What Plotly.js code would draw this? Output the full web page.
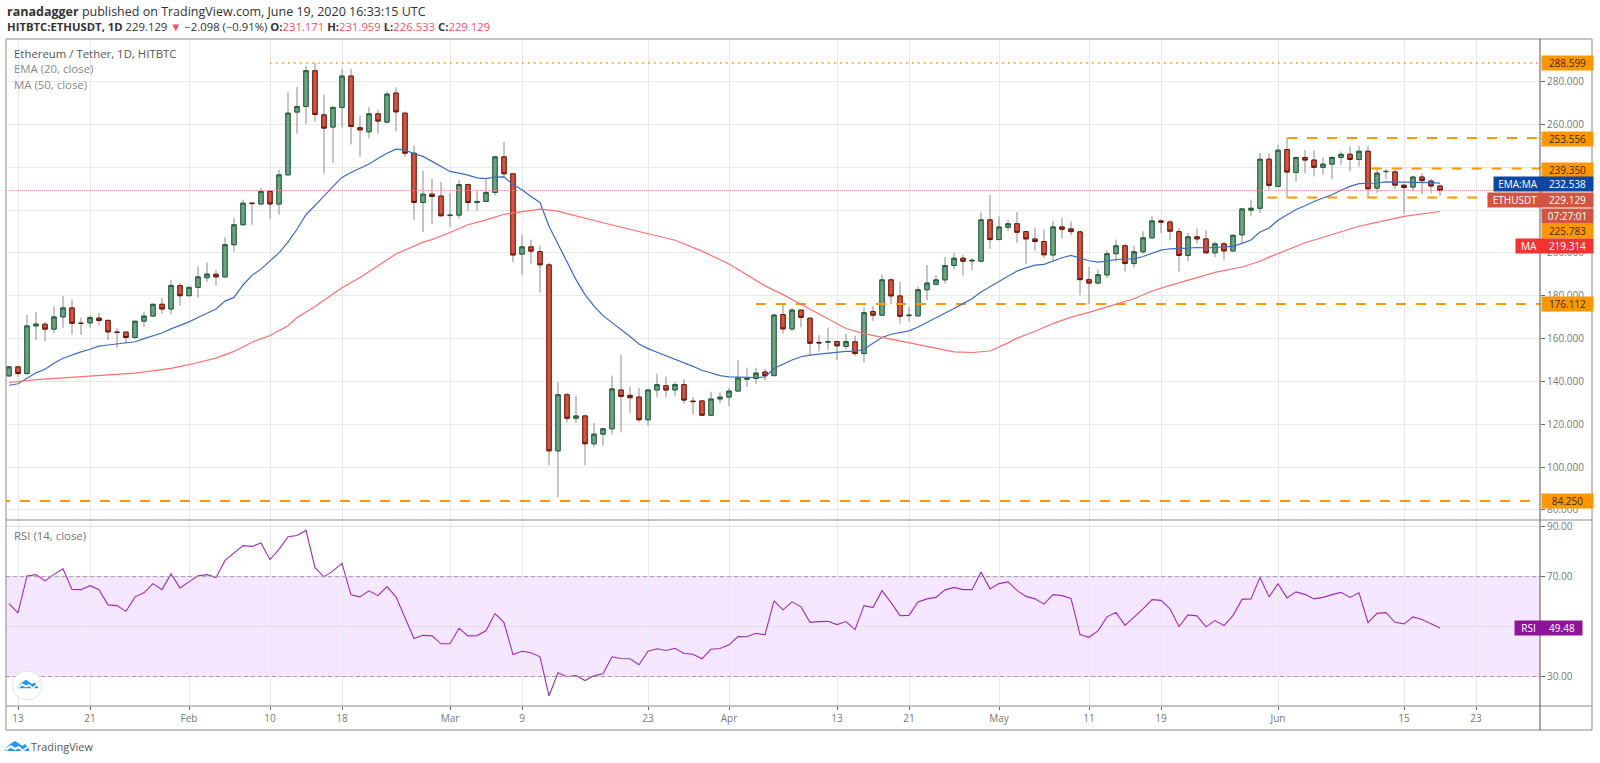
<!DOCTYPE html>
<html>
<head>
<meta charset="utf-8">
<script src="https://cdn.plot.ly/plotly-3.0.1.min.js"></script>
<style>
html, body { margin: 0; padding: 0; background: #fff; }
#graph { width: 1600px; height: 763px; }
</style>
</head>
<body>
<div id="graph"></div>
<script>
// daily candles start on 12 Jan 2020, one value per day
const firstDay = Date.UTC(2020, 0, 12);

const open = [142.6,146.8,143.7,165.9,166.7,164.4,170.1,174.3,167.1,167.3,169.6,168.5,163,163,160.5,168.1,170.5,176,173.8,184.7,180,183.9,188.4,190,188.8,203.8,213.1,223.2,222.8,228.7,222.8,236.4,265.7,268.3,285,264.4,258.7,267.9,282.5,258.4,256.5,264.9,261,274.6,265.2,246.5,223.5,227.4,226.5,217.4,217.6,231.9,223.5,224,228.2,244.8,236.9,199.4,202.8,200.6,194.4,107.6,133.8,122.8,123.9,110.9,115.4,117.9,136,133.5,132.7,122.1,136,138,136,138.5,130.8,130.9,124.2,131.8,132.7,135.5,141,141.4,144.4,142.7,171.2,164.5,173.3,169.5,158.2,158.3,158.6,156.3,158.5,153,172.6,170.9,187.4,179.9,170.7,170.6,182.8,185.3,187.4,194.1,197.5,196.2,196.1,215.4,206.2,211.9,213.6,209.9,206.5,205.3,199,212.1,211.2,209.8,187.5,185.9,189.7,199.6,203.3,195,200.5,207,214.9,214.4,209.9,198.8,207.5,206.5,200,204.2,200.9,208.4,219.9,220.8,243.7,231,248.2,237.5,244.5,243.3,239.9,241.4,244.5,246,243.6,247.4,230.2,237.9,237.8,231.6,230.7,235.4,233.5,231.171];
const high = [146.9,147,171,172.4,167.8,174.9,179.8,178.3,169.8,170.9,171.9,168.7,164.8,163.3,168.2,172.4,176.2,178.9,187.3,185.9,184.1,193.6,195.5,192,207.3,216.2,224.8,223.6,230.2,229,238.8,275,277.4,287.3,288.6,273.8,268.3,285.9,285.9,264.1,268,266.8,275.3,277.2,266,250,238.3,234.6,233,227.9,234,232.3,229.1,234.1,245,251.7,237.1,208.4,206.2,203.3,195.3,139.6,134.6,133.3,124.4,120.6,118.2,142.7,152.5,137.6,136.9,136.2,143.6,142.2,139.7,141.1,132.7,131.5,135.2,135,136.9,149.9,146.4,146.4,145.8,171.5,176.4,174.4,173.5,169.8,161.6,165.1,158.8,162.3,161.3,174.7,175.2,189.9,188.2,186.4,174.7,184.2,194.3,189.6,198.1,200,199.1,197.5,218.9,227.1,217.1,215.5,219.1,210.2,211.8,210.9,214.9,216.3,214.6,210,193.4,192.3,201.1,206.2,204.2,203.4,210.1,217,215.6,215.5,211.6,209.3,211.3,210.4,205.4,205.3,208.5,220.6,224.8,246.5,246.5,250.4,253.5,245,248,247.9,244.5,245,247.3,249.6,249.9,249.9,239.5,239.2,238.8,231.8,236,237.2,234.4,231.959];
const low = [142.1,142.1,143,159.2,158.8,162.5,165.1,161.9,161.7,165.1,166,159.2,155.8,157.8,159.9,165.4,170.4,171.5,171.3,175.4,179.8,179.1,186.5,184.7,188.5,200.6,213,213.1,222.7,215.9,217.8,236.3,255.6,260.2,261.3,236.9,241.9,258.5,250.6,244.8,253.5,255.6,260.6,256.7,244.7,215.4,209.7,213.4,217,212.3,216,219.6,219.6,223.9,226.8,234.9,195.6,189.9,195,181.5,100.8,86,120.9,120.6,100.8,109.2,110,115.4,116.2,125.2,120.9,119.3,132.6,132.6,133,129.8,124.6,124,124,129.9,128.4,135.4,137.4,138.8,140.5,142.3,162.3,163.6,165.3,152,154.1,154.7,150,155,152,148.7,168.2,170.6,176,167,168.1,170.2,178,184.8,185.6,192.3,189.5,192,195.9,201.9,205.9,210.1,204.7,194.7,201.1,197.7,196.1,206.8,208.2,180.3,176,185.3,188.2,195.7,191.3,193.2,199.6,206.8,209.3,205.9,191.3,196.1,204.4,199.7,198,196.9,200.6,204.7,217,218.6,229.5,230.8,225.6,233.2,237.2,235.7,236.4,234.4,241.1,238,240.3,226,228,234.4,229.8,218.3,228.7,227.3,227.9,226.533];
const close = [146.8,143.7,165.9,166.8,164.4,170.1,174.3,167.1,167.1,169.8,168.4,163.1,162.9,160.5,168.1,170.5,176,173.8,184.8,180,183.9,188.8,190.1,188.8,203.8,213.1,223.2,223,228.7,222.8,236.4,265.2,268.3,285,264.6,258.2,267.9,282.5,259,257.4,264.9,261.5,274.1,265.8,246.5,223.5,227.4,226.3,217.3,217.6,231.9,223.5,224,228.2,244.8,236.9,199,202.8,200.8,194.4,107.6,133.8,122.8,123.9,110.9,115.4,117.9,136.5,133,132.4,122.1,136,138.5,136,138.5,131.3,130.6,124.2,131.8,132.7,135.5,141.6,141.4,143.9,142.7,171,164.5,173.3,169.9,157.8,158,158.6,156.6,158.6,153,172.1,170.9,187.4,179.9,170.4,170.9,182.8,185.9,187.4,194.1,197.5,196.1,196.5,215.4,206.2,212.1,213.6,209.6,206.5,205.3,199.1,212.1,211,209.9,187.5,185.9,189.8,199.6,203.3,195,200.5,207,214.9,214.4,210.1,198.8,207.5,206.5,200,204.2,200.9,208.2,220.5,220.8,243.7,231.5,247.9,237.7,244.5,243.3,239.9,241.4,244.5,246,243.6,247.4,229.9,237.2,238,231.6,230.5,235.4,233.7,231.2,229.129];

const ema20 = [138.2,138.9,141.5,144,145.7,148.5,150.8,152.4,153.8,155,156.5,157,157.4,157.8,158.5,160,161.3,162.6,164.5,166,167.8,169.8,171.7,173.8,177.5,179.2,185,189.5,192.4,196,200,205,211,217.8,222,226.5,231,235.2,237.5,239.5,241.5,244,246.5,248.4,248.1,246.2,245,242.7,240.3,238,237.2,236.3,235,234.6,235.3,235.5,231.8,229.4,226.3,223.5,212.4,203.9,195.3,187.5,180.5,175.1,170.7,167.6,164.5,161,157.5,155.3,153.6,152,150.5,148.9,147,145.2,143.9,142.7,142.1,141.9,141.8,141.8,142.1,146,148,150,151.5,152.3,152.7,153.2,153.5,154,154,155,157.8,160.5,162,162.8,163.6,165.4,167.5,169.5,171.8,174,176.3,178.6,181.7,184.2,186.8,189.2,191.5,193,194.3,194.6,196.1,197.7,198.8,197.7,196.3,195.7,196.1,196.9,196.9,197.2,198.3,199.7,201.3,201.9,201.9,202.2,202.5,202.3,202.5,202.7,203,204.4,206,209.7,211.6,215.2,217.8,220.2,222,224,225.6,227.1,229.2,231,232.3,232.3,232.6,233.1,233.1,232.9,233.1,232.9,232.8,232.538];

// the 50 day average is smooth, read at these day numbers only
const maDays = [0,3,6,10,14,18,20,23,25,27,29,31,32,34,36,37,39,42,43,46,47,49,51,53,55,58,59,61,62,67,71,74,77,80,84,86,90,93,95,97,100,103,105,107,109,111,112,114,116,118,120,122,125,127,129,134,137,139,140,144,150,155,159];
const ma50 = [139.5,140.8,141.7,142.8,143.9,146.1,147.8,150.9,154,158.3,161.4,166,169.8,175,181,183.7,188.5,197,199.5,205,206.2,209.5,213.1,215.4,218,219.8,220.4,219.5,218.3,213,209,205.9,200.8,194.8,184.6,180.5,171.5,164.7,162.3,160.6,158,155.6,153.8,153.5,154.2,158,160.2,163.4,167,170,172.2,174.8,178.6,182.2,184.8,190.9,193.4,196.1,198,204.7,212.4,217,219.314];

const rsi = [59.2,55.5,70.3,70.8,68.3,70.9,73.1,64.9,64.8,66.4,64.8,58.7,58.4,56.1,61.9,63.5,67.2,64.8,71.1,65.5,67.9,70.3,70.8,69.6,76.5,79.5,82.4,82.1,83.5,76.8,80.9,86,86.5,88.5,73.6,69.9,72.3,75.3,62.7,61.9,64.3,62.4,66,61.9,53.2,45.2,46.5,46.3,43.1,43.1,49.3,46.3,46.4,48.3,55.2,51.6,38.8,40.1,39.5,37.9,22.3,31.5,29.9,30.4,28.4,30.3,31.1,37.9,37.2,37.1,34.7,40.1,41.1,40.4,41.3,39.2,38.9,37.1,40.9,41.2,42.7,46,45.9,47.3,46.7,60.3,56.7,59.9,57.9,51.7,52,52.1,50.8,52,48.8,58.4,57.6,64.4,59.6,54.4,54.5,59.9,61.1,61.7,64.7,65.7,64.8,64.8,71.9,65.1,67.2,67.9,64.5,62.1,61.1,59,62.8,62.4,61.3,46.8,45.7,48.3,53.9,55.7,50.5,53.7,57.1,60.8,60.5,57.1,50,54.7,54.3,49.9,52.4,50.4,54.5,60.9,61.1,69.7,61.9,67.2,61.5,63.9,62.9,61.1,61.7,62.8,63.7,61.7,63.5,51.6,55.3,55.6,51.7,51.1,53.9,52.8,51.1,49.48];

// horizontal levels, each from a start day to the right edge
const levelValues = [288.599, 253.556, 239.35, 225.783, 176.112, 84.25];
const levelStart = [29, 142, 151.4, 139.8, 83, -1];
const lastPrice = 229.129;

const tickDates = ['2020-01-13','2020-01-21','2020-02-01','2020-02-10','2020-02-18','2020-03-01','2020-03-09','2020-03-23','2020-04-01','2020-04-13','2020-04-21','2020-05-01','2020-05-11','2020-05-19','2020-06-01','2020-06-15','2020-06-23'];
const tickLabels = ['13','21','Feb','10','18','Mar','9','23','Apr','13','21','May','11','19','Jun','15','23'];
const priceTicks = [80,100,120,140,160,180,200,220,240,260,280];
// 220 and 240 sit behind the price tags
const priceLabels = ['80.000','100.000','120.000','140.000','160.000','180.000','200.000','','','260.000','280.000'];
const rsiTicks = [30,50,70,90];
const rsiLabels = ['30.00','','70.00','90.00'];

function dayToDate(d) {
    return new Date(firstDay + d * 86400000).toISOString();
}
const dates = open.map((v, i) => dayToDate(i));
const rightEdge = 170.11;

const bodyTop = open.map((v, i) => Math.max(v, close[i]));
const bodyBottom = open.map((v, i) => Math.min(v, close[i]));

// pixel helpers for the text and frame that sit on the paper
const L = 6, R = 1540, T = 39, B = 706, frameRight = 1592;
function px(x) { return (x - L) / (R - L); }
function py(y) { return (B - y) / (B - T); }

const font = 'Open Sans, sans-serif';

var traces = [];

levelValues.forEach(function(v, i) {
    traces.push({
        x: [dayToDate(levelStart[i]), dayToDate(rightEdge)],
        y: [v, v],
        mode: 'lines', type: 'scatter', hoverinfo: 'skip',
        line: {color: '#ff9800', width: i == 0 ? 1.6 : 2, dash: i == 0 ? '1.6px,4.4px' : '10px,10px'}
    });
});

traces.push({
    x: [dayToDate(-1), dayToDate(rightEdge)],
    y: [lastPrice, lastPrice],
    mode: 'lines', type: 'scatter', hoverinfo: 'skip',
    line: {color: '#ee9a9a', width: 1, dash: '1px,1px'}
});

traces.push({
    x: dates, y: ema20, mode: 'lines', type: 'scatter', hoverinfo: 'skip',
    line: {color: '#3d6cc0', width: 1.2}
});
traces.push({
    x: maDays.map(dayToDate), y: ma50, mode: 'lines', type: 'scatter', hoverinfo: 'skip',
    line: {color: '#ff7070', width: 1.2}
});

// wicks in grey first, then the bodies with darker borders on top
traces.push({
    x: dates, open: open, high: high, low: low, close: close,
    type: 'candlestick', hoverinfo: 'skip',
    increasing: {line: {color: '#8c8c8c', width: 1}, fillcolor: 'rgba(0,0,0,0)'},
    decreasing: {line: {color: '#8c8c8c', width: 1}, fillcolor: 'rgba(0,0,0,0)'}
});
traces.push({
    x: dates, open: open, high: bodyTop, low: bodyBottom, close: close,
    type: 'candlestick', hoverinfo: 'skip',
    increasing: {line: {color: '#1f5a38', width: 1}, fillcolor: '#6ba583'},
    decreasing: {line: {color: '#6b1100', width: 1}, fillcolor: '#d75442'}
});

traces.push({
    x: dates, y: rsi, xaxis: 'x', yaxis: 'y2',
    mode: 'lines', type: 'scatter', hoverinfo: 'skip',
    line: {color: '#a02cb8', width: 1.1}
});

function label(text, x, y, size, color) {
    return {
        text: text, xref: 'paper', yref: 'paper', x: px(x), y: py(y),
        xanchor: 'left', yanchor: 'middle', showarrow: false,
        font: {family: font, size: size, color: color}
    };
}

function tag(text, x0, x1, y, bg, color) {
    return {
        text: text, xref: 'paper', yref: 'paper', x: px(x0), y: py(y),
        xanchor: 'left', yanchor: 'middle', showarrow: false,
        width: x1 - x0, height: 13, align: 'center', bgcolor: bg, borderpad: 0.5,
        font: {family: font, size: 10, color: color}
    };
}

const red = '#f7525f';
const orange = '#ff9800';
const tagL = R + 1, tagR = frameRight - 1;

var annotations = [
    label('<b>ranadagger</b> published on TradingView.com, June 19, 2020 16:33:15 UTC', 5, 11, 12.5, '#333'),
    label('<b>HITBTC:ETHUSDT, 1D</b> 229.129 <span style="color:' + red + '">▼</span> −2.098 (−0.91%) <b>O:</b><span style="color:' + red + '">231.171</span> <b>H:</b><span style="color:' + red + '">231.959</span> <b>L:</b><span style="color:' + red + '">226.533</span> <b>C:</b><span style="color:' + red + '">229.129</span>', 5, 27, 11.3, '#333'),
    label('Ethereum / Tether, 1D, HITBTC', 12, 53.5, 11.4, '#555'),
    label('EMA (20, close)', 12, 68.5, 11.4, '#888'),
    label('MA (50, close)', 12, 84, 11.4, '#888'),
    label('RSI (14, close)', 12, 535, 11.4, '#777'),
    label('TradingView', 29, 746, 10.8, '#555'),

    tag('288.599', tagL, tagR, 63, orange, '#3a2a00'),
    tag('253.556', tagL, tagR, 139, orange, '#3a2a00'),
    tag('239.350', tagL, tagR, 169.5, orange, '#3a2a00'),
    tag('225.783', tagL, tagR, 231, orange, '#3a2a00'),
    tag('176.112', tagL, tagR, 304, orange, '#3a2a00'),
    tag('84.250', tagL, tagR, 501, orange, '#3a2a00'),
    tag('232.538', tagL, tagR, 184, '#0d47a1', '#fff'),
    tag('EMA:MA', 1493, R, 184, '#0d47a1', '#fff'),
    tag('229.129', tagL, tagR, 200, '#d25541', '#fff'),
    tag('ETHUSDT', 1487, R, 200, '#d25541', '#fff'),
    tag('07:27:01', tagL, tagR, 215.5, '#d25541', '#fff'),
    tag('219.314', tagL, tagR, 246, '#f23333', '#fff'),
    tag('MA', 1515, R, 246, '#f23333', '#fff'),
    tag('49.48', tagL, 1580, 628, '#8e1599', '#fff'),
    tag('RSI', 1514, R, 628, '#8e1599', '#fff')
];

function rect(x0, y0, x1, y1, color) {
    return {type: 'rect', xref: 'paper', yref: 'paper', x0: px(x0), x1: px(x1), y0: py(y0), y1: py(y1), line: {color: color, width: 1}};
}

function poly(points, fill) {
    var d = points.map((p, i) => (i == 0 ? 'M' : 'L') + px(p[0]) + ' ' + py(p[1])).join(' ') + ' Z';
    return {type: 'path', xref: 'paper', yref: 'paper', path: d, fillcolor: fill, line: {width: 0}};
}

// TradingView cloud, with a white zigzag through it
function logo(x, y, s) {
    var shift = pts => pts.map(p => [x + p[0] * s, y + p[1] * s]);
    return [
        poly(shift([[0,9],[5,4],[10,1],[14,3.5],[17,6],[20,4],[24,9],[24,11],[0,11]]), '#2196f3'),
        poly(shift([[0,9],[5.5,5],[10,7.5],[14,6],[17.5,9.5],[23,6],[24,7],[17.5,12],[14,8.5],[10,10],[5.5,8],[1,11]]), '#ffffff')
    ];
}

var shapes = [
    // rsi band between 30 and 70
    {type: 'rect', xref: 'paper', yref: 'y2', x0: 0, x1: 1, y0: 30, y1: 70, layer: 'below',
     fillcolor: 'rgba(153,21,255,0.1)', line: {width: 0}},
    {type: 'line', xref: 'paper', yref: 'y2', x0: 0, x1: 1, y0: 70, y1: 70, line: {color: '#a89ba8', width: 1, dash: '4px,3px'}},
    {type: 'line', xref: 'paper', yref: 'y2', x0: 0, x1: 1, y0: 30, y1: 30, line: {color: '#a89ba8', width: 1, dash: '4px,3px'}},
    // frame and pane separators
    rect(6, 39, frameRight, 730, '#8a8a8a'),
    {type: 'line', xref: 'paper', yref: 'paper', x0: px(6), x1: px(frameRight), y0: py(520), y1: py(520), line: {color: '#8a8a8a', width: 1}},
    {type: 'line', xref: 'paper', yref: 'paper', x0: px(6), x1: px(frameRight), y0: py(706), y1: py(706), line: {color: '#8a8a8a', width: 1}},
    {type: 'line', xref: 'paper', yref: 'paper', x0: px(R), x1: px(R), y0: py(39), y1: py(730), line: {color: '#555', width: 1}},
    // round badge in the rsi pane
    {type: 'circle', xref: 'paper', yref: 'paper', x0: px(12.5), x1: px(42), y0: py(671), y1: py(700), fillcolor: '#fff', line: {color: '#e3e3e3', width: 1}}
].concat(logo(17.5, 679, 0.85), logo(5, 740, 1));

const layout = {
    width: 1600,
    height: 763,
    showlegend: false,
    paper_bgcolor: '#fff',
    plot_bgcolor: '#fff',
    margin: {l: L, r: 1600 - R, t: T, b: 763 - B, pad: 0},
    font: {family: font, size: 10, color: '#666'},
    boxgap: 0.3,
    xaxis: {
        type: 'date',
        range: [dayToDate(-0.333), dayToDate(rightEdge)],
        rangeslider: {visible: false},
        anchor: 'y2',
        tickmode: 'array',
        tickvals: tickDates,
        ticktext: tickLabels,
        ticks: 'outside', ticklen: 3, tickcolor: '#666',
        tickfont: {family: font, size: 10, color: '#777'},
        showgrid: true, gridcolor: '#e9e9ea', gridwidth: 1,
        zeroline: false
    },
    yaxis: {
        domain: [py(520), 1],
        range: [75.33, 299.8],
        side: 'right',
        tickmode: 'array',
        tickvals: priceTicks,
        ticktext: priceLabels,
        ticks: 'outside', ticklen: 4, tickcolor: '#666',
        tickfont: {family: font, size: 10, color: '#777'},
        showgrid: true, gridcolor: '#e9e9ea', gridwidth: 1,
        zeroline: false
    },
    yaxis2: {
        domain: [0, py(520)],
        range: [18.2, 92.68],
        side: 'right',
        tickmode: 'array',
        tickvals: rsiTicks,
        ticktext: rsiLabels,
        ticks: 'outside', ticklen: 4, tickcolor: '#666',
        tickfont: {family: font, size: 10, color: '#777'},
        showgrid: true, gridcolor: '#e2dce6', gridwidth: 1,
        zeroline: false
    },
    annotations: annotations,
    shapes: shapes
};

Plotly.newPlot('graph', traces, layout, {displayModeBar: false, staticPlot: true});
</script>
</body>
</html>
